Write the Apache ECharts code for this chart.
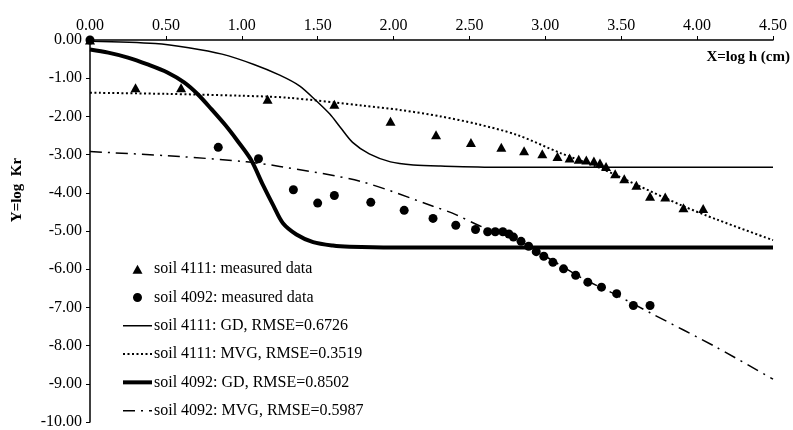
<!DOCTYPE html>
<html>
<head>
<meta charset="utf-8">
<script src="https://cdn.jsdelivr.net/npm/echarts@6/dist/echarts.min.js"></script>
<style>
  html, body { margin: 0; padding: 0; background: #fff; }
  #chart { width: 793px; height: 430px; }
</style>
</head>
<body>
<div id="chart"></div>
<script>
// Axis ticks
const xTicks = [0, 0.5, 1, 1.5, 2, 2.5, 3, 3.5, 4, 4.5];
const yTicks = [0, -1, -2, -3, -4, -5, -6, -7, -8, -9, -10];

// soil 4111: measured points (log h, log Kr)
const meas4111X = [0, 0.30, 0.60, 1.17, 1.61, 1.98, 2.28, 2.51, 2.71, 2.86, 2.98, 3.08, 3.16, 3.22, 3.27, 3.32, 3.36, 3.40, 3.46, 3.52, 3.60, 3.69, 3.79, 3.91, 4.04];
const meas4111Y = [0, -1.25, -1.25, -1.55, -1.68, -2.13, -2.48, -2.68, -2.81, -2.90, -2.98, -3.05, -3.09, -3.12, -3.14, -3.17, -3.22, -3.31, -3.50, -3.63, -3.80, -4.09, -4.11, -4.39, -4.41];

// soil 4092: measured points
const meas4092X = [0, 0.845, 1.11, 1.34, 1.50, 1.61, 1.85, 2.07, 2.26, 2.41, 2.54, 2.62, 2.67, 2.72, 2.76, 2.79, 2.84, 2.89, 2.94, 2.99, 3.05, 3.12, 3.20, 3.28, 3.37, 3.47, 3.58, 3.69];
const meas4092Y = [0, -2.81, -3.11, -3.92, -4.27, -4.07, -4.25, -4.46, -4.67, -4.85, -4.96, -5.02, -5.02, -5.02, -5.08, -5.16, -5.27, -5.40, -5.54, -5.66, -5.82, -5.99, -6.16, -6.34, -6.47, -6.64, -6.95, -6.95];

// fitted curves
const gd4111X = [0, 0.43, 0.65, 0.87, 1.08, 1.25, 1.38, 1.49, 1.58, 1.65, 1.73, 1.84, 1.98, 2.13, 2.31, 2.70, 3.20, 4.50];
const gd4111Y = [-0.03, -0.09, -0.20, -0.37, -0.64, -0.92, -1.20, -1.59, -1.94, -2.29, -2.68, -2.98, -3.19, -3.27, -3.30, -3.33, -3.33, -3.33];

const mvg4111X = [0, 0.50, 1.00, 1.30, 1.80, 2.04, 2.31, 2.55, 2.81, 3.10, 3.36, 3.60, 3.91, 4.13, 4.50];
const mvg4111Y = [-1.38, -1.41, -1.46, -1.51, -1.72, -1.83, -2.00, -2.20, -2.48, -2.96, -3.35, -3.79, -4.35, -4.70, -5.24];

const gd4092X = [0, 0.12, 0.25, 0.38, 0.51, 0.62, 0.71, 0.80, 0.89, 0.97, 1.06, 1.14, 1.21, 1.27, 1.36, 1.47, 1.60, 1.71, 2.00, 2.50, 4.50];
const gd4092Y = [-0.25, -0.33, -0.46, -0.64, -0.85, -1.11, -1.42, -1.81, -2.22, -2.63, -3.13, -3.80, -4.35, -4.79, -5.09, -5.29, -5.38, -5.41, -5.43, -5.43, -5.43];

const mvg4092X = [0, 0.59, 1.03, 1.25, 1.78, 2.26, 2.41, 2.57, 2.81, 3.05, 3.25, 3.47, 3.69, 4.13, 4.50];
const mvg4092Y = [-2.92, -3.05, -3.19, -3.31, -3.70, -4.35, -4.57, -4.87, -5.22, -5.78, -6.25, -6.68, -7.14, -8.05, -8.88];

const names = [
  'soil 4111: measured data',
  'soil 4092: measured data',
  'soil 4111: GD, RMSE=0.6726',
  'soil 4111: MVG, RMSE=0.3519',
  'soil 4092: GD, RMSE=0.8502',
  'soil 4092: MVG, RMSE=0.5987'
];

const zip = (xs, ys) => xs.map((x, i) => [x, ys[i]]);
const FONT = 'Liberation Serif';

// Legend marker paths drawn inside the full 29x10 legend icon box so they keep their shape
const TRI_ICON = 'path://M0,0M29,10M14.5,0.5L19.5,9.5L9.5,9.5Z';
const DOT_ICON = 'path://M0,0M29,10M14.5,0.5A4.5,4.5,0,1,1,14.49,0.5Z';

const chart = echarts.init(document.getElementById('chart'), null, { renderer: 'canvas' });

const lineSeries = (name, xs, ys, style) => ({
  name,
  type: 'line',
  data: zip(xs, ys),
  smooth: 0.3,
  symbol: 'none',
  lineStyle: Object.assign({ color: '#000' }, style),
  itemStyle: { color: '#000' },
  z: 2
});

const lineLegend = (name, width) => ({
  name,
  itemStyle: { opacity: 0 },
  lineStyle: { width: width, color: '#000' }
});

chart.setOption({
  animation: false,
  backgroundColor: '#fff',
  grid: { left: 90, top: 40, right: 20, bottom: 7, containLabel: false },
  xAxis: {
    type: 'value',
    position: 'top',
    min: xTicks[0],
    max: xTicks[xTicks.length - 1],
    interval: 0.5,
    axisLine: { onZero: false, lineStyle: { color: '#000', width: 1.5 } },
    axisTick: { show: true, length: 4, lineStyle: { color: '#000', width: 1 } },
    axisLabel: { color: '#000', fontFamily: FONT, fontSize: 16, margin: 6,
      formatter: v => v.toFixed(2) },
    splitLine: { show: false }
  },
  yAxis: {
    type: 'value',
    min: yTicks[yTicks.length - 1],
    max: yTicks[0],
    interval: 1,
    axisLine: { onZero: false, lineStyle: { color: '#000', width: 1.5 } },
    axisTick: { show: true, length: 4, lineStyle: { color: '#000', width: 1 } },
    axisLabel: { color: '#000', fontFamily: FONT, fontSize: 16, margin: 8,
      formatter: v => (v === 0 ? 0 : v).toFixed(2) },
    splitLine: { show: false }
  },
  legend: {
    orient: 'vertical',
    left: 121,
    top: 255,
    itemWidth: 29,
    itemHeight: 10,
    itemGap: 0,
    padding: 0,
    textStyle: { color: '#000', fontFamily: FONT, fontSize: 16, lineHeight: 28.3, padding: [0, 0, 0, -3] },
    data: [
      { name: names[0], icon: TRI_ICON, itemStyle: { color: '#000', opacity: 1 } },
      { name: names[1], icon: DOT_ICON, itemStyle: { color: '#000', opacity: 1 } },
      lineLegend(names[2], 1.5),
      lineLegend(names[3], 2),
      lineLegend(names[4], 4),
      lineLegend(names[5], 1.5)
    ]
  },
  graphic: [
    { type: 'text', right: 3, top: 50,
      style: { text: 'X=log h (cm)', fill: '#000', font: 'bold 15px "Liberation Serif"' } },
    { type: 'text', x: 17, y: 190, rotation: Math.PI / 2,
      style: { text: 'Y=log  Kr', fill: '#000', font: 'bold 15px "Liberation Serif"',
        textAlign: 'center', textVerticalAlign: 'middle' } }
  ],
  series: [
    {
      name: names[0], type: 'scatter', data: zip(meas4111X, meas4111Y),
      symbol: 'triangle', symbolSize: [10, 9], itemStyle: { color: '#000', opacity: 1 }, z: 3
    },
    {
      name: names[1], type: 'scatter', data: zip(meas4092X, meas4092Y),
      symbol: 'circle', symbolSize: 9, itemStyle: { color: '#000', opacity: 1 }, z: 3
    },
    lineSeries(names[2], gd4111X, gd4111Y, { width: 1.5, type: 'solid' }),
    lineSeries(names[3], mvg4111X, mvg4111Y, { width: 2, type: [2, 2.5] }),
    lineSeries(names[4], gd4092X, gd4092Y, { width: 4, type: 'solid' }),
    lineSeries(names[5], mvg4092X, mvg4092Y, { width: 1.5, type: [12, 6, 2, 6] })
  ]
});
</script>
</body>
</html>
